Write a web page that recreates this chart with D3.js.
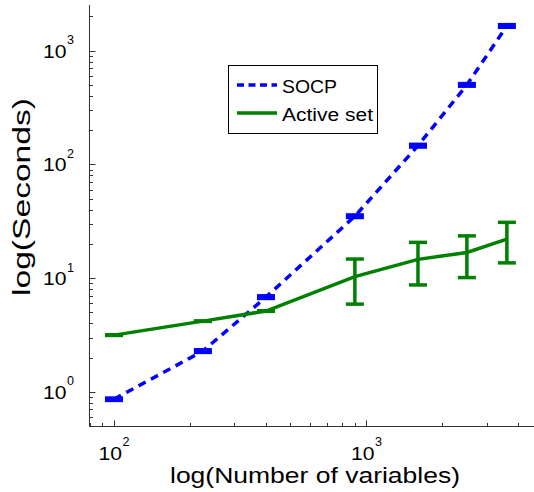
<!DOCTYPE html>
<html><head><meta charset="utf-8">
<script src="https://cdn.jsdelivr.net/npm/d3@7"></script>
<style>body{margin:0;background:#fff}svg{display:block}text{font-family:"Liberation Sans",Arial,sans-serif;fill:#000}</style>
</head><body><svg id="c" width="534" height="492"></svg>
<script>
const xVals = [100, 225, 400, 900, 1600, 2500, 3600];
const socpMean = [0.86, 2.28, 6.8, 35, 146, 500, 1650];
const socpLo   = [0.84, 2.22, 6.62, 34.1, 142, 487, 1607];
const socpHi   = [0.88, 2.34, 6.98, 35.9, 150, 513, 1693];
const asMean = [3.15, 4.18, 5.13, 10.3, 14.6, 16.8, 22.0];
const asLo   = [3.13, 4.16, 5.1, 5.9, 8.7, 10.1, 13.6];
const asHi   = [3.17, 4.2, 5.16, 14.7, 20.6, 23.5, 30.9];
const xTickExp = [2, 3];
const yTickExp = [0, 1, 2, 3];
const seriesNames = ["SOCP", "Active set"];
const colors = ["#0000ff", "#008000"];

const svg = d3.select("#c");
const x = d3.scaleLog().domain([80, 5000]).range([89.5, 542.9]);
const y = d3.scaleLog().domain([0.5, 2500]).range([426, 5.4]);

// axes
const ax = svg.append("g").attr("stroke", "#333").attr("stroke-width", 1).attr("fill", "none");
ax.append("line").attr("x1", 89.5).attr("x2", 534).attr("y1", 426.5).attr("y2", 426.5);
ax.append("line").attr("x1", 89.5).attr("x2", 89.5).attr("y1", 5).attr("y2", 426.5);
// minor/major ticks
const xt = [];
for (let e = 1; e <= 3; e++) for (let m = 1; m <= 9; m++) { const v = m * Math.pow(10, e); if (v >= 80 && v <= 5000) xt.push([v, m === 1]); }
xt.forEach(([v, maj]) => {
  const px = Math.round(x(v)) + 0.5;
  if (px > 533) return;
  ax.append("line").attr("x1", px).attr("x2", px).attr("y1", 426.5).attr("y2", 426.5 - (maj ? 6 : 3.5));
});
const yt = [];
for (let e = -1; e <= 3; e++) for (let m = 1; m <= 9; m++) { const v = m * Math.pow(10, e); if (v >= 0.5 && v <= 2500) yt.push([v, m === 1]); }
yt.forEach(([v, maj]) => {
  const py = Math.round(y(v)) + 0.5;
  ax.append("line").attr("x1", 89.5).attr("x2", 89.5 + (maj ? 6 : 3.5)).attr("y1", py).attr("y2", py);
});

// tick labels
xTickExp.forEach(e => {
  const px = x(Math.pow(10, e));
  svg.append("text").attr("x", px - 15.5).attr("y", 459.5).attr("font-size", 18).attr("textLength", 23.5).attr("lengthAdjust", "spacingAndGlyphs").text("10");
  svg.append("text").attr("x", px + 8.5).attr("y", 446).attr("font-size", 12.5).attr("textLength", 7).attr("lengthAdjust", "spacingAndGlyphs").text(String(e));
});
yTickExp.forEach(e => {
  const py = y(Math.pow(10, e));
  svg.append("text").attr("x", 43).attr("y", py + 7).attr("font-size", 18).attr("textLength", 23.5).attr("lengthAdjust", "spacingAndGlyphs").text("10");
  svg.append("text").attr("x", 67).attr("y", py - 6.5).attr("font-size", 12.5).attr("textLength", 7).attr("lengthAdjust", "spacingAndGlyphs").text(String(e));
});

// axis titles
svg.append("text").attr("x", 315).attr("y", 483).attr("text-anchor", "middle").attr("font-size", 22).attr("textLength", 290).attr("lengthAdjust", "spacingAndGlyphs").text("log(Number of variables)");
svg.append("text").attr("transform", "translate(30,197) rotate(-90)").attr("text-anchor", "middle").attr("font-size", 23).attr("textLength", 198).attr("lengthAdjust", "spacingAndGlyphs").text("log(Seconds)");

// series
function drawSeries(mean, lo, hi, color, dash) {
  const g = svg.append("g");
  const line = d3.line().x((d, i) => x(xVals[i])).y(d => y(d));
  g.append("path").datum(mean).attr("d", line).attr("fill", "none").attr("stroke", color).attr("stroke-width", 3.5).attr("stroke-dasharray", dash);
  xVals.forEach((xv, i) => {
    const px = x(xv);
    g.append("line").attr("x1", px).attr("x2", px).attr("y1", y(lo[i])).attr("y2", y(hi[i])).attr("stroke", color).attr("stroke-width", 3.5);
    [lo[i], hi[i]].forEach(v => {
      g.append("line").attr("x1", px - 9).attr("x2", px + 9).attr("y1", y(v)).attr("y2", y(v)).attr("stroke", color).attr("stroke-width", 3.5);
    });
  });
}
drawSeries(socpMean, socpLo, socpHi, colors[0], "8,6");
drawSeries(asMean, asLo, asHi, colors[1], null);

// legend
const lg = svg.append("g");
lg.append("rect").attr("x", 228.5).attr("y", 65.5).attr("width", 149).attr("height", 68).attr("fill", "#fff").attr("stroke", "#000").attr("stroke-width", 1);
lg.append("line").attr("x1", 237).attr("x2", 277).attr("y1", 85).attr("y2", 85).attr("stroke", colors[0]).attr("stroke-width", 3.5).attr("stroke-dasharray", "7,4.5");
lg.append("line").attr("x1", 237).attr("x2", 277).attr("y1", 113).attr("y2", 113).attr("stroke", colors[1]).attr("stroke-width", 3.5);
lg.append("text").attr("x", 282).attr("y", 93).attr("font-size", 18).attr("textLength", 55).attr("lengthAdjust", "spacingAndGlyphs").text(seriesNames[0]);
lg.append("text").attr("x", 282).attr("y", 120.5).attr("font-size", 18).attr("textLength", 91).attr("lengthAdjust", "spacingAndGlyphs").text(seriesNames[1]);
</script></body></html>
